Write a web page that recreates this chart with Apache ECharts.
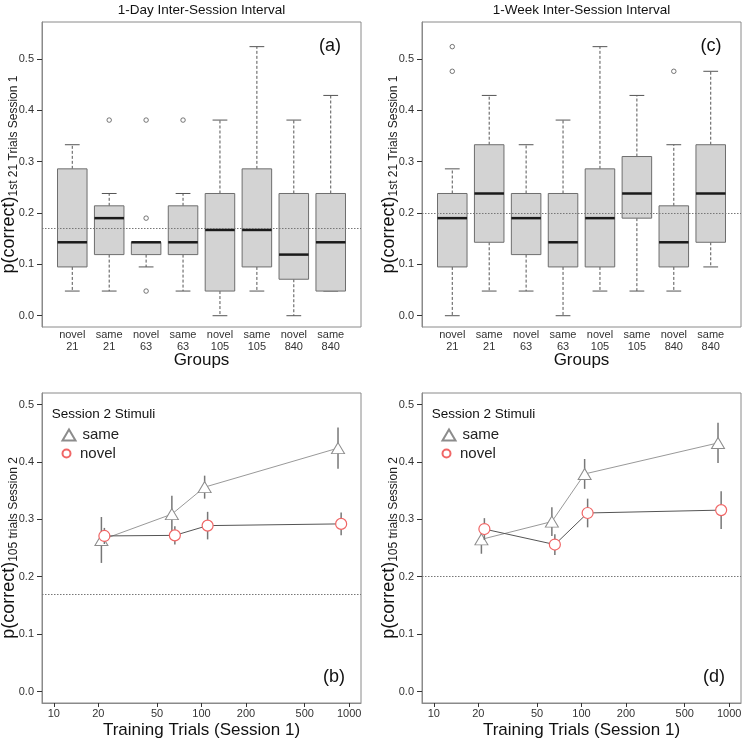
<!DOCTYPE html>
<html>
<head>
<meta charset="utf-8">
<script src="https://cdn.jsdelivr.net/npm/echarts@6/dist/echarts.min.js"></script>
<style>
  html, body { margin: 0; padding: 0; background: #fff; }
  #chart { width: 750px; height: 741px; }
</style>
</head>
<body>
<div id="chart"></div>
<script>
// groups on the boxplot x axis
const groupLabels = ["novel\n21", "same\n21", "novel\n63", "same\n63", "novel\n105", "same\n105", "novel\n840", "same\n840"];

// (a) 1-day interval, first 21 trials of session 1
const dayLow = [0.048, 0.048, 0.095, 0.048, 0.000, 0.048, 0.000, 0.048];
const dayQ1 = [0.095, 0.119, 0.119, 0.119, 0.048, 0.095, 0.071, 0.048];
const dayMed = [0.143, 0.190, 0.143, 0.143, 0.167, 0.167, 0.119, 0.143];
const dayQ3 = [0.286, 0.214, 0.143, 0.214, 0.238, 0.286, 0.238, 0.238];
const dayHigh = [0.333, 0.238, 0.143, 0.238, 0.381, 0.524, 0.381, 0.429];
const dayOutliers = [[2, 0.381], [3, 0.381], [3, 0.190], [3, 0.048], [4, 0.381]];

// (c) 1-week interval
const weekLow = [0.000, 0.048, 0.048, 0.000, 0.048, 0.048, 0.048, 0.095];
const weekQ1 = [0.095, 0.143, 0.119, 0.095, 0.095, 0.190, 0.095, 0.143];
const weekMed = [0.190, 0.238, 0.190, 0.143, 0.190, 0.238, 0.143, 0.238];
const weekQ3 = [0.238, 0.333, 0.238, 0.238, 0.286, 0.310, 0.214, 0.333];
const weekHigh = [0.286, 0.429, 0.333, 0.381, 0.524, 0.429, 0.333, 0.476];
const weekOutliers = [[1, 0.476], [1, 0.524], [7, 0.476]];

// chance level (dotted lines)
const chanceDay = 0.172;
const chanceWeek = 0.205;

// (b) / (d) session 2, first 105 trials
const trialsSame = [21, 63, 105, 840];
const trialsNovel = [22, 66, 110, 882];
const daySameMean = [0.264, 0.309, 0.356, 0.424];
const daySameErr = [0.040, 0.032, 0.020, 0.036];
const dayNovelMean = [0.271, 0.272, 0.289, 0.292];
const dayNovelErr = [0.014, 0.016, 0.024, 0.020];
const weekSameMean = [0.265, 0.296, 0.379, 0.433];
const weekSameErr = [0.025, 0.025, 0.026, 0.035];
const weekNovelMean = [0.283, 0.256, 0.311, 0.316];
const weekNovelErr = [0.019, 0.018, 0.025, 0.033];

const groupTicks = [1, 2, 3, 4, 5, 6, 7, 8];
const pTicks = [0, 0.1, 0.2, 0.3, 0.4, 0.5];
const trialTicks = [10, 20, 50, 100, 200, 500, 1000];

const FONT = "'Liberation Sans', Arial, sans-serif";
const sameColor = "#8c8c8c";
const novelColor = "#f06666";

window.chart = echarts.init(document.getElementById("chart"));

function boxRows(low, q1, med, q3, high) {
  return low.map((v, i) => [i + 1, v, q1[i], med[i], q3[i], high[i]]);
}

function errRows(xs, mean, err) {
  return xs.map((x, i) => [x, mean[i] - err[i], mean[i] + err[i]]);
}

function renderBox(params, api) {
  const x = api.value(0);
  const lo = api.coord([x, api.value(1)]);
  const q1 = api.coord([x, api.value(2)]);
  const md = api.coord([x, api.value(3)]);
  const q3 = api.coord([x, api.value(4)]);
  const hi = api.coord([x, api.value(5)]);
  const bw = api.size([0.8, 0])[0];
  const cx = lo[0];
  const whisk = { stroke: "#555", lineWidth: 1, lineDash: [3, 2] };
  const cap = { stroke: "#555", lineWidth: 1 };
  return {
    type: "group",
    children: [
      { type: "line", shape: { x1: cx, y1: q3[1], x2: cx, y2: hi[1] }, style: whisk },
      { type: "line", shape: { x1: cx, y1: q1[1], x2: cx, y2: lo[1] }, style: whisk },
      { type: "line", shape: { x1: cx - bw / 4, y1: hi[1], x2: cx + bw / 4, y2: hi[1] }, style: cap },
      { type: "line", shape: { x1: cx - bw / 4, y1: lo[1], x2: cx + bw / 4, y2: lo[1] }, style: cap },
      {
        type: "rect",
        shape: { x: cx - bw / 2, y: q3[1], width: bw, height: q1[1] - q3[1] },
        style: { fill: "#d3d3d3", stroke: "#6e6e6e", lineWidth: 1 },
      },
      { type: "line", shape: { x1: cx - bw / 2, y1: md[1], x2: cx + bw / 2, y2: md[1] }, style: { stroke: "#1a1a1a", lineWidth: 2.5 } },
    ],
  };
}

function renderErr(params, api) {
  const a = api.coord([api.value(0), api.value(1)]);
  const b = api.coord([api.value(0), api.value(2)]);
  return {
    type: "line",
    shape: { x1: a[0], y1: a[1], x2: b[0], y2: b[1] },
    style: { stroke: "#777", lineWidth: 1.5 },
  };
}

function chanceLine(v) {
  return {
    silent: true,
    symbol: "none",
    label: { show: false },
    lineStyle: { type: [1.5, 1.5], color: "#777", width: 1 },
    emphasis: { disabled: true },
    data: [{ yAxis: v }],
  };
}

function yAxisFor(idx, min, max, sub) {
  return {
    type: "value",
    gridIndex: idx,
    min: min,
    max: max,
    splitLine: { show: false },
    axisLine: { show: true, onZero: false, lineStyle: { color: "#8a8a8a", width: 1 } },
    axisTick: { show: true, length: 5, customValues: pTicks, lineStyle: { color: "#333", width: 1 } },
    axisLabel: {
      customValues: pTicks,
      formatter: (v) => v.toFixed(1),
      fontSize: 11,
      color: "#333",
      margin: 8,
    },
    name: "{p|p(correct)}{s|" + sub + "}",
    nameLocation: "middle",
    nameRotate: 90,
    nameGap: 22,
    nameMoveOverlap: false,
    nameTextStyle: {
      rich: {
        p: { fontSize: 18, color: "#111", lineHeight: 22, fontFamily: FONT },
        s: { fontSize: 12, color: "#222", lineHeight: 20, verticalAlign: "bottom", fontFamily: FONT },
      },
    },
  };
}

function groupAxis(idx) {
  return {
    type: "value",
    gridIndex: idx,
    min: 0.18,
    max: 8.82,
    splitLine: { show: false },
    axisLine: { show: false, onZero: false },
    axisTick: { show: false },
    axisLabel: {
      customValues: groupTicks,
      formatter: (v) => groupLabels[Math.round(v) - 1],
      fontSize: 11,
      lineHeight: 12,
      color: "#333",
      margin: 2,
    },
    name: "Groups",
    nameLocation: "middle",
    nameGap: 25,
    nameMoveOverlap: false,
    nameTextStyle: { fontSize: 17, color: "#111", lineHeight: 17 },
  };
}

function trialAxis(idx) {
  return {
    type: "log",
    logBase: 10,
    gridIndex: idx,
    min: 8.318,
    max: 1202,
    splitLine: { show: false },
    minorTick: { show: false },
    axisLine: { show: true, onZero: false, lineStyle: { color: "#8a8a8a", width: 1 } },
    axisTick: { show: true, length: 4, customValues: trialTicks, lineStyle: { color: "#333", width: 1 } },
    axisLabel: {
      customValues: trialTicks,
      formatter: (v) => String(Math.round(v)),
      fontSize: 11,
      color: "#333",
      margin: 5,
    },
    name: "Training Trials (Session 1)",
    nameLocation: "middle",
    nameGap: 19,
    nameMoveOverlap: false,
    nameTextStyle: { fontSize: 17, color: "#111", lineHeight: 17 },
  };
}

function legendFor(name, icon, left, top, w, h) {
  return {
    orient: "vertical",
    left: left,
    top: top,
    padding: 0,
    itemWidth: w,
    itemHeight: h,
    selectedMode: false,
    textStyle: { fontSize: 15, color: "#222", fontFamily: FONT, padding: [0, 0, 0, 2] },
    data: [{ name: name, icon: icon }],
  };
}

function panelText(text, x, y, size, align) {
  return {
    type: "text",
    x: x,
    y: y,
    silent: true,
    style: { text: text, fontSize: size, fontFamily: FONT, fill: "#111", align: align || "center", verticalAlign: "middle" },
  };
}

function sameLine(xIdx, mean, chance) {
  return {
    name: "same",
    type: "line",
    xAxisIndex: xIdx,
    yAxisIndex: xIdx,
    data: trialsSame.map((x, i) => [x, mean[i]]),
    symbol: "triangle",
    symbolSize: [13, 11],
    itemStyle: { color: "#fff", borderColor: sameColor, borderWidth: 1 },
    lineStyle: { color: "#999", width: 1 },
    emphasis: { disabled: true },
    z: 3,
    markLine: chanceLine(chance),
  };
}

function novelLine(xIdx, mean) {
  return {
    name: "novel",
    type: "line",
    xAxisIndex: xIdx,
    yAxisIndex: xIdx,
    data: trialsNovel.map((x, i) => [x, mean[i]]),
    symbol: "circle",
    symbolSize: 11,
    itemStyle: { color: "#fff", borderColor: novelColor, borderWidth: 1.2 },
    lineStyle: { color: "#555", width: 1 },
    emphasis: { disabled: true },
    z: 5,
  };
}

function errSeries(xIdx, xs, mean, err, z) {
  return {
    type: "custom",
    xAxisIndex: xIdx,
    yAxisIndex: xIdx,
    data: errRows(xs, mean, err),
    renderItem: renderErr,
    silent: true,
    z: z,
  };
}

function boxSeries(xIdx, rows) {
  return {
    type: "custom",
    xAxisIndex: xIdx,
    yAxisIndex: xIdx,
    data: rows,
    renderItem: renderBox,
    silent: true,
    z: 2,
  };
}

function outlierSeries(xIdx, pts, chance) {
  return {
    type: "scatter",
    xAxisIndex: xIdx,
    yAxisIndex: xIdx,
    data: pts,
    symbol: "circle",
    symbolSize: 4.5,
    itemStyle: { color: "#fff", borderColor: "#555", borderWidth: 1 },
    silent: true,
    z: 3,
    markLine: chanceLine(chance),
  };
}

const gridBase = { show: true, borderColor: "#8a8a8a", borderWidth: 1, backgroundColor: "transparent", containLabel: false, outerBoundsMode: "none" };

window.chart.setOption({
  animation: false,
  backgroundColor: "#fff",
  textStyle: { fontFamily: FONT },
  grid: [
    Object.assign({ left: 42, top: 22, width: 319, height: 305 }, gridBase),
    Object.assign({ left: 422, top: 22, width: 319, height: 305 }, gridBase),
    Object.assign({ left: 42, top: 393, width: 319, height: 310 }, gridBase),
    Object.assign({ left: 422, top: 393, width: 319, height: 310 }, gridBase),
  ],
  xAxis: [groupAxis(0), groupAxis(1), trialAxis(2), trialAxis(3)],
  yAxis: [
    yAxisFor(0, -0.022, 0.572, "1st 21 Trials Session 1"),
    yAxisFor(1, -0.022, 0.572, "1st 21 Trials Session 1"),
    yAxisFor(2, -0.02, 0.52, "105 trials Session 2"),
    yAxisFor(3, -0.02, 0.52, "105 trials Session 2"),
  ],
  legend: [
    legendFor("same", "triangle", 61.5, 427.5, 13, 11),
    legendFor("novel", "circle", 61.5, 446, 13, 8),
    legendFor("same", "triangle", 441.5, 427.5, 13, 11),
    legendFor("novel", "circle", 441.5, 446, 13, 8),
  ],
  graphic: [
    panelText("1-Day Inter-Session Interval", 201.5, 10, 13.5),
    panelText("1-Week Inter-Session Interval", 581.5, 10, 13.5),
    panelText("(a)", 330, 46, 18),
    panelText("(c)", 711, 46, 18),
    panelText("(b)", 334, 677, 18),
    panelText("(d)", 714, 677, 18),
    panelText("Session 2 Stimuli", 51.7, 414, 13.5, "left"),
    panelText("Session 2 Stimuli", 431.7, 414, 13.5, "left"),
  ],
  series: [
    boxSeries(0, boxRows(dayLow, dayQ1, dayMed, dayQ3, dayHigh)),
    outlierSeries(0, dayOutliers, chanceDay),
    boxSeries(1, boxRows(weekLow, weekQ1, weekMed, weekQ3, weekHigh)),
    outlierSeries(1, weekOutliers, chanceWeek),
    errSeries(2, trialsSame, daySameMean, daySameErr, 2),
    sameLine(2, daySameMean, chanceDay),
    errSeries(2, trialsNovel, dayNovelMean, dayNovelErr, 4),
    novelLine(2, dayNovelMean),
    errSeries(3, trialsSame, weekSameMean, weekSameErr, 2),
    sameLine(3, weekSameMean, chanceWeek),
    errSeries(3, trialsNovel, weekNovelMean, weekNovelErr, 4),
    novelLine(3, weekNovelMean),
  ],
});

window.addEventListener("resize", () => {
  window.chart.resize();
});
</script>
</body>
</html>
